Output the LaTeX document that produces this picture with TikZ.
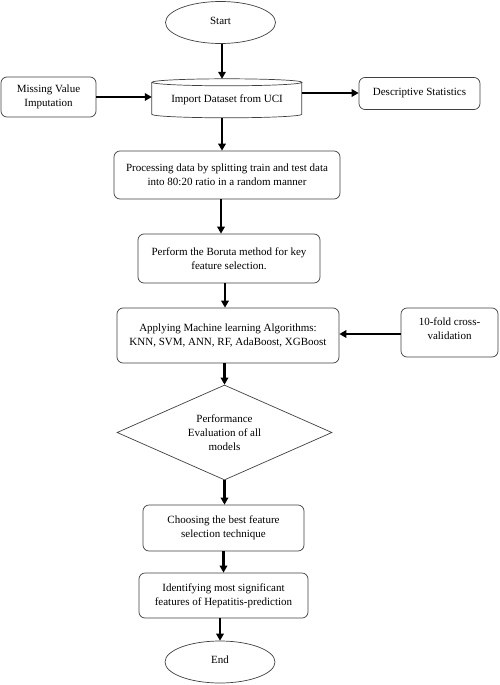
\documentclass[tikz,border=0pt]{standalone}
\usepackage{fontspec}
\setmainfont{Liberation Serif}
\usetikzlibrary{shapes.geometric,arrows.meta}
\newcommand\figfont{\fontsize{11}{13.8}\selectfont}
\begin{document}
\begin{tikzpicture}[x=1pt,y=-1pt,
  box/.style={draw=black!75, line width=0.7pt, rounded corners=6pt, fill=white, align=center, inner sep=0pt, font=\figfont},
  oval/.style={ellipse, draw=black!75, line width=0.7pt, fill=white, inner sep=0pt, minimum width=110pt, minimum height=42pt, font=\figfont},
  cylbox/.style={inner sep=0pt, align=center, font=\figfont, minimum width=150pt, minimum height=39pt},
  cylline/.style={draw=black!75, line width=0.7pt},
  dia/.style={diamond, aspect=2.26, draw=black!75, line width=0.7pt, fill=white, inner sep=0pt, align=center, font=\figfont, minimum width=215pt, minimum height=95pt},
  arr/.style={line width=2.2pt, -{Triangle[length=7pt,width=7.5pt]}}
]
\useasboundingbox (0,0) rectangle (499,685);

\node[oval] (start) at (220.5,22.5) {\raisebox{4pt}{Start}};

\node[cylbox] (imp) at (227,98.5) {};
\draw[cylline] (imp.north west) ++(0,3.5) -- ++(0,32) arc[start angle=180,end angle=360,x radius=75pt,y radius=3.5pt] -- ++(0,-32);
\draw[cylline] ([yshift=-3.5pt]imp.north) ellipse[x radius=75pt,y radius=3.5pt];
\node[font=\figfont] (imptext) at (227,99.5) {Import Dataset from UCI};

\node[box, minimum width=95pt, minimum height=40pt] (mvi) at (48.5,97) {Missing Value\\Imputation};
\node[box, minimum width=121pt, minimum height=32pt] (desc) at (419.5,93.5) {\raisebox{1.5pt}{Descriptive Statistics}};
\node[box, minimum width=226pt, minimum height=48pt] (proc) at (227,175) {Processing data by splitting train and test data\\into 80:20 ratio in a random manner};
\node[box, minimum width=182pt, minimum height=49pt] (bor) at (229,258.5) {Perform the Boruta method for key\\feature selection.};
\node[box, minimum width=222pt, minimum height=55pt] (ml) at (228,335.5) {Applying Machine learning Algorithms:\\KNN, SVM, ANN, RF, AdaBoost, XGBoost};
\node[box, minimum width=97pt, minimum height=49pt] (cv) at (449.5,332.5) {10-fold cross-\\validation\\[-5.8pt]\mbox{}};
\node[dia] (perf) at (224.5,432.5) {Performance\\Evaluation of all\\models};
\node[box, minimum width=161pt, minimum height=46pt] (choose) at (223.5,528) {Choosing the best feature\\selection technique};
\node[box, minimum width=169pt, minimum height=45pt] (ident) at (223.5,595.5) {Identifying most significant\\features of Hepatitis-prediction};
\node[oval] (end) at (220,662) {\raisebox{4pt}{End}};

\draw[arr] ([xshift=1.5pt]start.south) -- ([xshift=1.5pt]start.south |- imp.north);
\draw[arr] ([xshift=-5pt]imp.south) -- ([xshift=-5pt]imp.south |- proc.north);
\draw[arr] ([xshift=-6pt]proc.south) -- ([xshift=-6pt]proc.south |- bor.north);
\draw[arr] ([xshift=-4pt]bor.south) -- ([xshift=-4pt]bor.south |- ml.north);
\draw[arr] (ml.south -| perf.north) -- (perf.north);
\draw[arr] (perf.south) -- (perf.south |- choose.north);
\draw[arr] (choose.south) -- (choose.south |- ident.north);
\draw[arr] (ident.south -| end.north) -- (end.north);

\draw[arr] (mvi.east) -- (mvi.east -| imp.west);
\draw[arr] ([yshift=0.5pt]desc.west -| imp.east) -- ([yshift=0.5pt]desc.west);
\draw[arr] ([yshift=-1.5pt]cv.west) -- ([yshift=-1.5pt]cv.west -| ml.east);
\end{tikzpicture}
\end{document}
